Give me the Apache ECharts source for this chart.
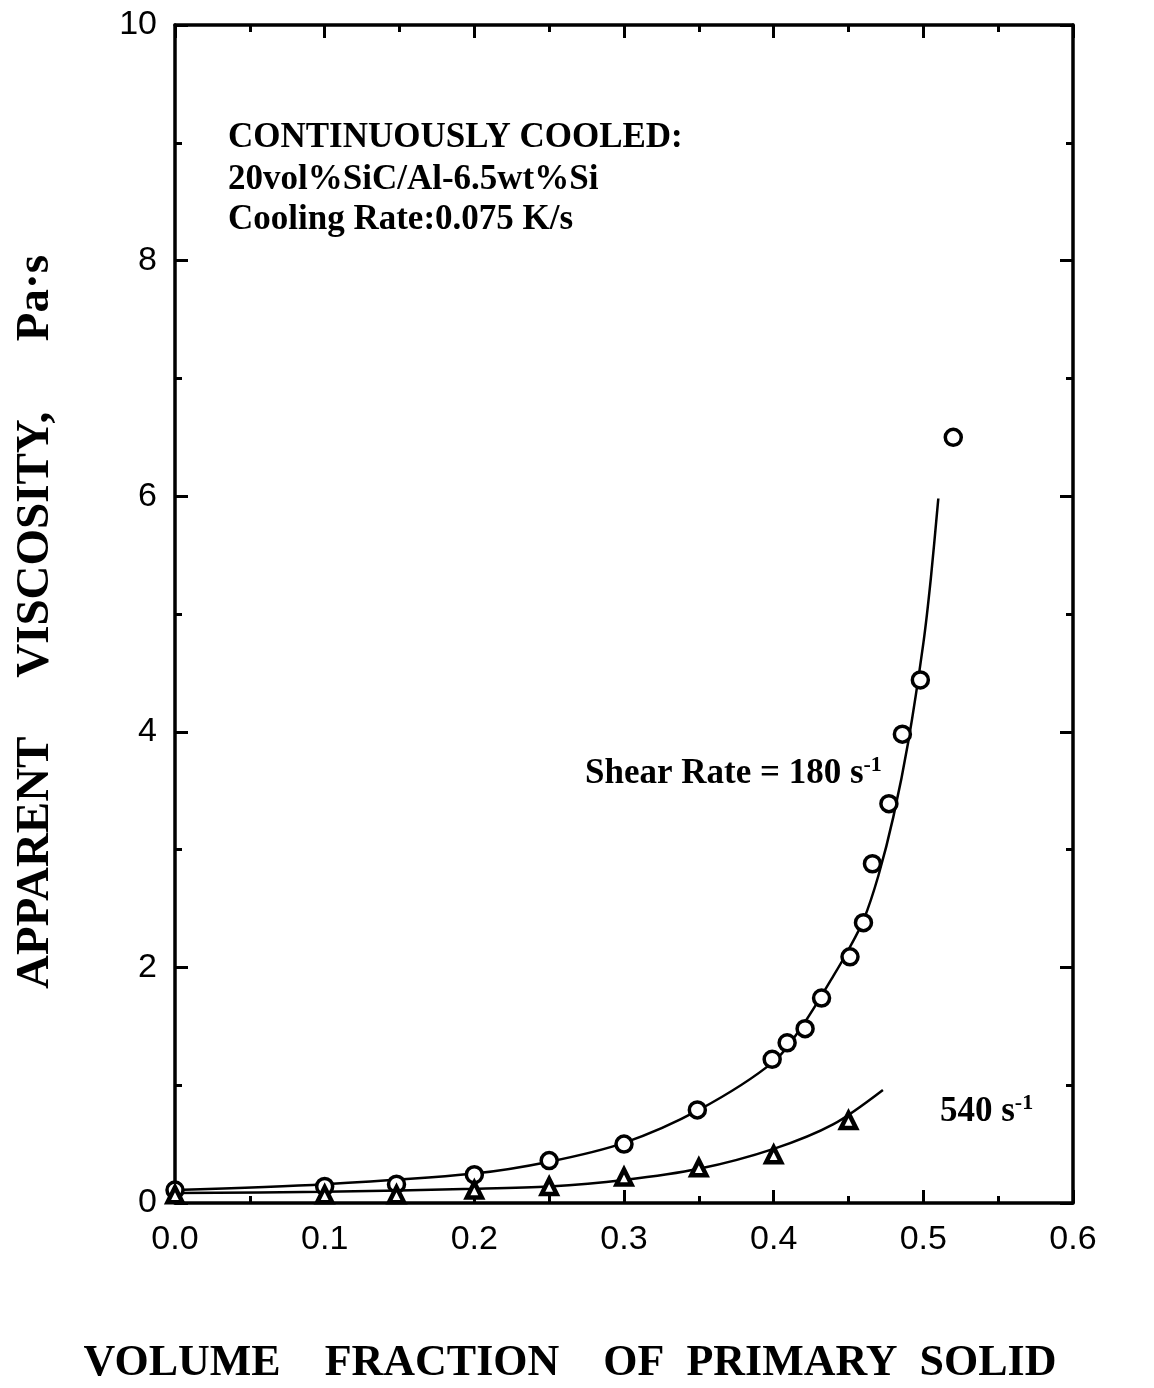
<!DOCTYPE html>
<html><head><meta charset="utf-8">
<script src="https://cdn.jsdelivr.net/npm/echarts@6/dist/echarts.min.js"></script>
<style>html,body{margin:0;padding:0;background:#fff}#c{width:1154px;height:1388px}</style>
</head><body><div id="c"></div>
<script>
// Data
const circleX = [0.0, 0.1, 0.148, 0.2, 0.25, 0.3, 0.349, 0.399, 0.409, 0.421, 0.432, 0.451, 0.46, 0.466, 0.477, 0.486, 0.498, 0.52];
const circleY = [0.11, 0.14, 0.16, 0.24, 0.36, 0.50, 0.79, 1.22, 1.36, 1.48, 1.74, 2.09, 2.38, 2.88, 3.39, 3.98, 4.44, 6.50];
const triX = [0.0, 0.1, 0.148, 0.2, 0.25, 0.3, 0.35, 0.4, 0.45];
const triY = [0.07, 0.07, 0.07, 0.11, 0.14, 0.22, 0.30, 0.41, 0.70];
const fit180X = [0.0, 0.1, 0.2, 0.25, 0.3, 0.35, 0.4, 0.42, 0.44, 0.45, 0.46, 0.47, 0.48, 0.49, 0.5, 0.505, 0.51];
const fit180Y = [0.11, 0.16, 0.25, 0.35, 0.51, 0.79, 1.2, 1.52, 1.93, 2.15, 2.40, 2.78, 3.28, 3.92, 4.75, 5.3, 5.98];
const fit540X = [0.0, 0.1, 0.2, 0.25, 0.3, 0.35, 0.4, 0.44, 0.473];
const fit540Y = [0.085, 0.095, 0.12, 0.14, 0.195, 0.29, 0.46, 0.67, 0.96];
const xTicks = [0.0, 0.1, 0.2, 0.3, 0.4, 0.5, 0.6];
const yTickLabels = [0, 2, 4, 6, 8, 10];

const zip = (a, b) => a.map((v, i) => [v, b[i]]);
const chart = echarts.init(document.getElementById('c'), null, {renderer: 'canvas'});
const G = {left: 175, right: 81, top: 25, bottom: 185};
const tickFont = {fontFamily: 'Liberation Sans', fontSize: 34, color: '#000'};
const axLine = {show: true, onZero: false, lineStyle: {color: '#000', width: 3.5}};
const majT = {inside: true, length: 13, lineStyle: {color: '#000', width: 3}};
const minT = {show: true, splitNumber: 2, length: 7, lineStyle: {color: '#000', width: 3}};
const serif = '"Liberation Serif"';
chart.setOption({
  backgroundColor: '#fff',
  animation: false,
  grid: G,
  xAxis: [{
    type: 'value', min: 0, max: 0.6, interval: 0.1, position: 'bottom',
    axisLine: axLine, axisTick: majT, minorTick: minT,
    splitLine: {show: false}, minorSplitLine: {show: false},
    axisLabel: Object.assign({margin: 20, formatter: v => xTicks.some(t => Math.abs(t - v) < 1e-6) ? v.toFixed(1) : ''}, tickFont)
  }, {
    type: 'value', min: 0, max: 0.6, interval: 0.1, position: 'top',
    axisLine: axLine, axisTick: majT, minorTick: minT,
    splitLine: {show: false}, minorSplitLine: {show: false}, axisLabel: {show: false}
  }],
  yAxis: [{
    type: 'value', min: 0, max: 10, interval: 2, position: 'left',
    axisLine: axLine, axisTick: majT, minorTick: minT,
    splitLine: {show: false}, minorSplitLine: {show: false},
    axisLabel: Object.assign({margin: 18, formatter: v => yTickLabels.includes(v) ? String(v) : ''}, tickFont)
  }, {
    type: 'value', min: 0, max: 10, interval: 2, position: 'right',
    axisLine: axLine, axisTick: majT, minorTick: minT,
    splitLine: {show: false}, minorSplitLine: {show: false}, axisLabel: {show: false}
  }],
  series: [
    {type: 'line', data: zip(fit180X, fit180Y), smooth: 0.3, showSymbol: false, symbol: 'none',
     lineStyle: {color: '#000', width: 2.5}, z: 2},
    {type: 'line', data: zip(fit540X, fit540Y), smooth: 0.3, showSymbol: false, symbol: 'none',
     lineStyle: {color: '#000', width: 2.5}, z: 2},
    {type: 'scatter', data: zip(circleX, circleY), symbol: 'circle', symbolSize: 16,
     itemStyle: {color: '#fff', borderColor: '#000', borderWidth: 3.5, opacity: 1}, z: 3},
    {type: 'scatter', data: zip(triX, triY), symbol: 'triangle', symbolSize: 15,
     itemStyle: {color: '#fff', borderColor: '#000', borderWidth: 4.5, opacity: 1}, z: 3}
  ],
  graphic: [
    {type: 'text', x: 228, y: 138, style: {text: 'CONTINUOUSLY COOLED:', font: 'bold 35px ' + serif, fill: '#000', verticalAlign: 'middle'}},
    {type: 'text', x: 228, y: 180, style: {text: '20vol%SiC/Al-6.5wt%Si', font: 'bold 35px ' + serif, fill: '#000', verticalAlign: 'middle'}},
    {type: 'text', x: 228, y: 220, style: {text: 'Cooling Rate:0.075 K/s', font: 'bold 35px ' + serif, fill: '#000', verticalAlign: 'middle'}},
    {type: 'text', x: 585, y: 774, style: {
      rich: {a: {font: 'bold 35px ' + serif, fill: '#000'}, s: {font: 'bold 22px ' + serif, fill: '#000', verticalAlign: 'top', padding: [0, 0, 18, 0]}},
      text: '{a|Shear Rate = 180 s}{s|-1}', verticalAlign: 'middle'}},
    {type: 'text', x: 940, y: 1112, style: {
      rich: {a: {font: 'bold 35px ' + serif, fill: '#000'}, s: {font: 'bold 22px ' + serif, fill: '#000', verticalAlign: 'top', padding: [0, 0, 18, 0]}},
      text: '{a|540 s}{s|-1}', verticalAlign: 'middle'}},
    {type: 'text', x: 36, y: 622, rotation: Math.PI / 2, style: {
      text: 'APPARENT     VISCOSITY,      Pa·s', font: 'bold 47px ' + serif, fill: '#000',
      align: 'center', verticalAlign: 'middle'}},
    {type: 'text', x: 570, y: 1364, style: {
      text: 'VOLUME    FRACTION    OF  PRIMARY  SOLID', font: 'bold 44px ' + serif, fill: '#000',
      align: 'center', verticalAlign: 'middle'}}
  ]
});
</script></body></html>
